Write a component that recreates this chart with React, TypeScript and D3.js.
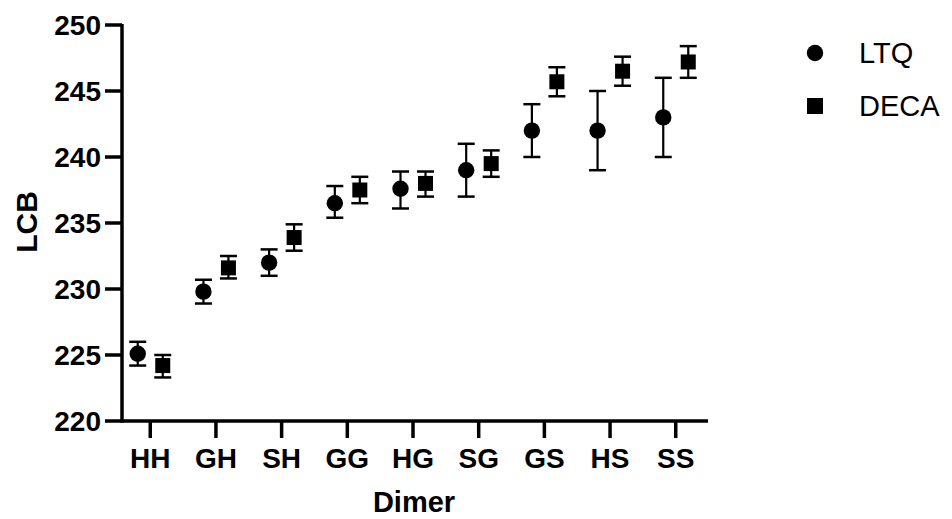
import React, { useEffect, useRef } from "react";
import * as d3 from "d3";

const dimers = ["HH", "GH", "SH", "GG", "HG", "SG", "GS", "HS", "SS"];
const seriesNames = ["LTQ", "DECA"];
const ltqMean = [225.1, 229.8, 232.0, 236.5, 237.6, 239.0, 242.0, 242.0, 243.0];
const ltqLow = [224.2, 228.9, 231.0, 235.4, 236.1, 237.0, 240.0, 239.0, 240.0];
const ltqHigh = [226.0, 230.7, 233.0, 237.8, 238.9, 241.0, 244.0, 245.0, 246.0];
const decaMean = [224.2, 231.6, 233.9, 237.5, 238.0, 239.5, 245.7, 246.5, 247.2];
const decaLow = [223.3, 230.8, 232.9, 236.5, 237.0, 238.5, 244.6, 245.4, 246.0];
const decaHigh = [225.0, 232.5, 234.9, 238.5, 238.9, 240.5, 246.8, 247.6, 248.4];
const yTicks = [220, 225, 230, 235, 240, 245, 250];

const FONT = "'Liberation Sans', Arial, sans-serif";

export default function App() {
  const ref = useRef<SVGSVGElement | null>(null);

  useEffect(() => {
    document.body.style.margin = "0";
    const svg = d3.select(ref.current);
    svg.selectAll("*").remove();

    const left = 122;
    const right = 708;
    const top = 25;
    const bottom = 421;

    const x = d3.scalePoint<string>().domain(dimers).range([left, 704]).padding(0.43);
    const offset = d3.scalePoint<string>().domain(seriesNames).range([-12.5, 12.5]);
    const y = d3.scaleLinear().domain([220, 250]).range([bottom, top]);

    // axes
    svg.append("line").attr("x1", left).attr("x2", left).attr("y1", top - 1).attr("y2", bottom + 1.5)
      .attr("stroke", "#000").attr("stroke-width", 3.5);
    svg.append("line").attr("x1", left - 1.5).attr("x2", right).attr("y1", bottom).attr("y2", bottom)
      .attr("stroke", "#000").attr("stroke-width", 3.5);

    svg.selectAll(".ytick").data(yTicks).join("line").attr("class", "ytick")
      .attr("x1", left - 17).attr("x2", left).attr("y1", d => y(d)).attr("y2", d => y(d))
      .attr("stroke", "#000").attr("stroke-width", 3.5);
    svg.selectAll(".ylab").data(yTicks).join("text").attr("class", "ylab")
      .attr("x", left - 21).attr("y", d => y(d)).attr("dy", "0.36em")
      .attr("text-anchor", "end").attr("font-family", FONT).attr("font-weight", "bold")
      .attr("font-size", 28).text(d => d);

    svg.selectAll(".xtick").data(dimers).join("line").attr("class", "xtick")
      .attr("x1", d => x(d)!).attr("x2", d => x(d)!).attr("y1", bottom).attr("y2", bottom + 17)
      .attr("stroke", "#000").attr("stroke-width", 3.5);
    svg.selectAll(".xlab").data(dimers).join("text").attr("class", "xlab")
      .attr("x", d => x(d)!).attr("y", 468).attr("text-anchor", "middle")
      .attr("font-family", FONT).attr("font-weight", "bold").attr("font-size", 28).text(d => d);

    svg.append("text").attr("x", 414).attr("y", 512).attr("text-anchor", "middle")
      .attr("font-family", FONT).attr("font-weight", "bold").attr("font-size", 29).text("Dimer");
    svg.append("text").attr("transform", "translate(37,222) rotate(-90)").attr("text-anchor", "middle")
      .attr("font-family", FONT).attr("font-weight", "bold").attr("font-size", 30).text("LCB");

    const series = [
      { name: "LTQ", mean: ltqMean, low: ltqLow, high: ltqHigh },
      { name: "DECA", mean: decaMean, low: decaLow, high: decaHigh },
    ];

    series.forEach(s => {
      const pts = dimers.map((d, i) => ({
        cx: x(d)! + offset(s.name)!,
        mean: s.mean[i], low: s.low[i], high: s.high[i],
      }));
      const g = svg.append("g");
      g.selectAll(".bar").data(pts).join("line").attr("class", "bar")
        .attr("x1", d => d.cx).attr("x2", d => d.cx).attr("y1", d => y(d.low)).attr("y2", d => y(d.high))
        .attr("stroke", "#000").attr("stroke-width", 2.2);
      g.selectAll(".capHi").data(pts).join("line").attr("class", "capHi")
        .attr("x1", d => d.cx - 8.5).attr("x2", d => d.cx + 8.5).attr("y1", d => y(d.high)).attr("y2", d => y(d.high))
        .attr("stroke", "#000").attr("stroke-width", 2.5);
      g.selectAll(".capLo").data(pts).join("line").attr("class", "capLo")
        .attr("x1", d => d.cx - 8.5).attr("x2", d => d.cx + 8.5).attr("y1", d => y(d.low)).attr("y2", d => y(d.low))
        .attr("stroke", "#000").attr("stroke-width", 2.5);
      if (s.name === "LTQ") {
        g.selectAll("circle").data(pts).join("circle")
          .attr("cx", d => d.cx).attr("cy", d => y(d.mean)).attr("r", 8.2).attr("fill", "#000");
      } else {
        g.selectAll("rect").data(pts).join("rect")
          .attr("x", d => d.cx - 7.5).attr("y", d => y(d.mean) - 7.5).attr("width", 15).attr("height", 15)
          .attr("fill", "#000");
      }
    });

    // legend
    const legendX = 815;
    const legendY = d3.scalePoint<string>().domain(seriesNames).range([53, 106]);
    svg.append("circle").attr("cx", legendX).attr("cy", legendY("LTQ")!).attr("r", 8.2).attr("fill", "#000");
    svg.append("rect").attr("x", legendX - 8).attr("y", legendY("DECA")! - 8).attr("width", 16).attr("height", 16)
      .attr("fill", "#000");
    seriesNames.forEach(n => {
      svg.append("text").attr("x", 859).attr("y", legendY(n)!).attr("dy", "0.36em")
        .attr("font-family", FONT).attr("font-size", 29).text(n);
    });
  }, []);

  return (
    <svg ref={ref} width={952} height={519} style={{ display: "block", background: "#fff" }} />
  );
}
